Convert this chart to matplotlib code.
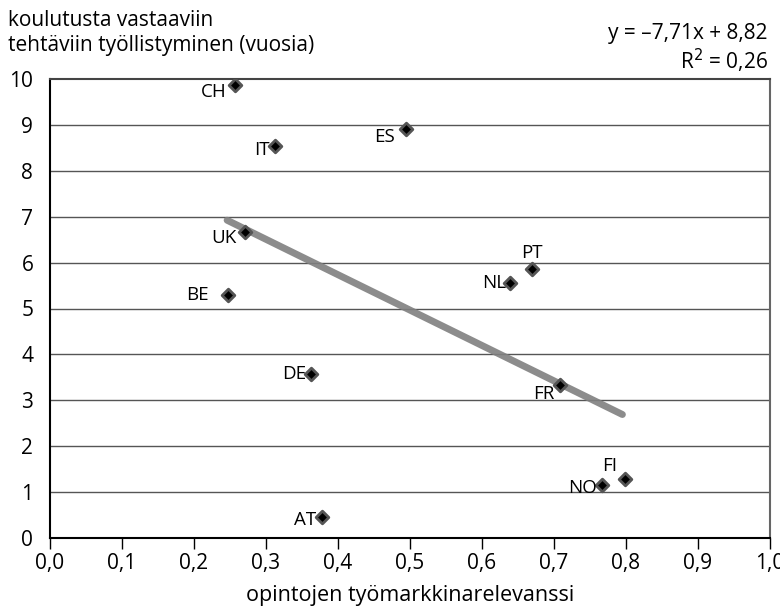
import matplotlib.pyplot as plt
from matplotlib.ticker import FuncFormatter

plt.rcParams['font.family'] = ['Open Sans', 'DejaVu Sans']

# data
countries = ['CH', 'IT', 'ES', 'UK', 'BE', 'DE', 'PT', 'NL', 'FR', 'NO', 'FI', 'AT']
relevance = [0.257, 0.313, 0.494, 0.271, 0.247, 0.362, 0.669, 0.639, 0.708, 0.766, 0.798, 0.378]
years = [9.87, 8.54, 8.91, 6.66, 5.30, 3.57, 5.87, 5.55, 3.34, 1.16, 1.29, 0.45]
slope, intercept = -7.71, 8.82
trend_x = [0.246, 0.795]

# label offsets in points (dx, dy, ha)
offsets = {'CH': (-6, -5, 'right'), 'IT': (-4, -3, 'right'), 'ES': (-8, -6, 'right'),
           'UK': (-6, -4, 'right'), 'BE': (-14, 0, 'right'), 'DE': (-3, 0, 'right'),
           'PT': (0, 11, 'center'), 'NL': (-3, 0, 'right'), 'FR': (-4, -7, 'right'),
           'NO': (-3, -2, 'right'), 'FI': (-5, 9, 'right'), 'AT': (-4, -2, 'right')}

fig = plt.figure(figsize=(7.8, 6.13), dpi=100)
ax = fig.add_axes([50/780, 1-538/613, 720/780, 459/613])

for yv in range(1, 10):
    ax.axhline(yv, color='#555555', lw=1.0, zorder=1)

ax.plot(trend_x, [slope*x + intercept for x in trend_x], color='#808080', lw=5,
        solid_capstyle='round', alpha=0.9, zorder=2)
ax.scatter(relevance, years, marker='D', s=42, color='black', edgecolors='#555555',
           linewidths=2, zorder=3)

for c, x, y in zip(countries, relevance, years):
    dx, dy, ha = offsets[c]
    ax.annotate(c, (x, y), xytext=(dx, dy), textcoords='offset points',
                ha=ha, va='center', fontsize=13.5, color='black', zorder=4)

ax.set_xlim(0, 1.0)
ax.set_ylim(0, 10)
ax.set_xticks([i/10 for i in range(11)])
ax.set_yticks(range(11))
ax.xaxis.set_major_formatter(FuncFormatter(lambda v, p: f'{v:.1f}'.replace('.', ',')))
ax.tick_params(axis='x', direction='out', length=8, width=1, labelsize=15, pad=3)
ax.tick_params(axis='y', length=0, labelsize=15, pad=12)

ax.spines['left'].set_color('black')
ax.spines['bottom'].set_color('black')
ax.spines['top'].set_color('#444444')
ax.spines['right'].set_color('#666666')
for s in ax.spines.values():
    s.set_linewidth(1.5)

ax.set_xlabel('opintojen työmarkkinarelevanssi', fontsize=15.5, labelpad=8)

fig.text(8/780, 1-33/613, 'koulutusta vastaaviin\ntehtäviin työllistyminen (vuosia)',
         fontsize=15, ha='left', va='center', linespacing=1.25)
fig.text(768/780, 1-34/613, f'y = –{abs(slope):.2f}x + {intercept:.2f}'.replace('.', ','),
         fontsize=15, ha='right', va='center')
fig.text(768/780, 1-61/613, 'R$^2$ = 0,26', fontsize=15, ha='right', va='center')

fig.savefig('out.png', dpi=100)
